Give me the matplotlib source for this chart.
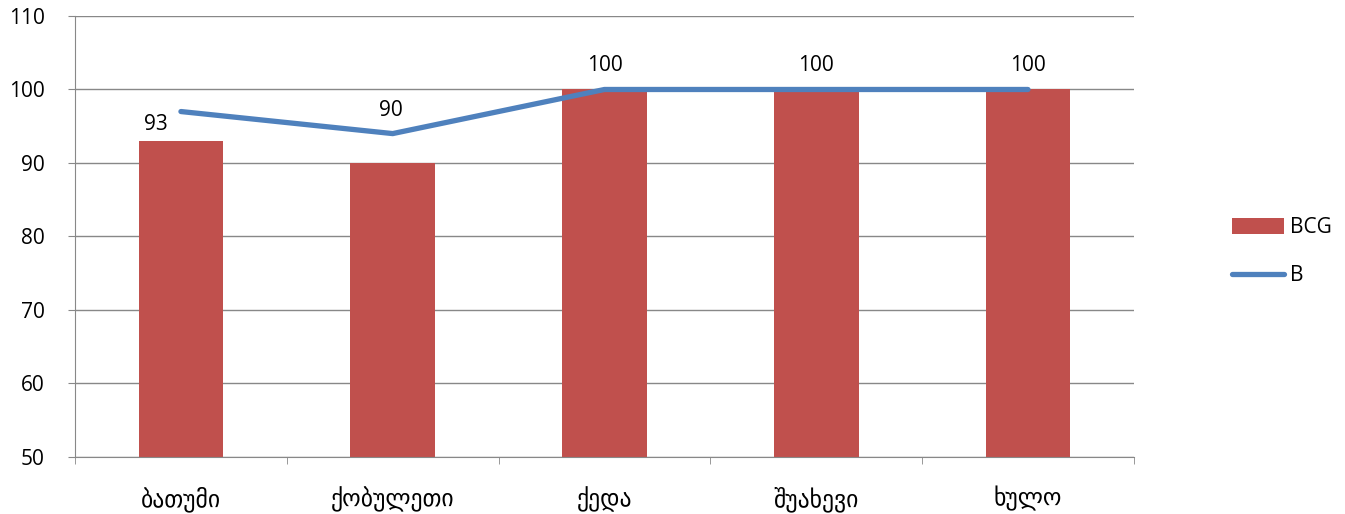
import matplotlib
matplotlib.use("Agg")
import matplotlib.pyplot as plt
import numpy as np

# data
districts = ['ბათუმი', 'ქობულეთი', 'ქედა', 'შუახევი', 'ხულო']
bcg = [93, 90, 100, 100, 100]
b_vals = [97, 94, 100, 100, 100]

# label placement (points), Excel nudges the first two away from the line
label_offsets = [(-18, 4), (-1, 30), (0, 10), (0, 10), (0, 10)]

plt.rcParams['font.family'] = ['Open Sans', 'DejaVu Sans']
plt.rcParams['font.size'] = 15

fig = plt.figure(figsize=(13.45, 5.14), dpi=100, facecolor='w')
ax = fig.add_axes([0.0558, 0.1109, 0.843 - 0.0558, 0.9689 - 0.1109])

x = np.arange(len(districts))
bar_h = ax.bar(x, bcg, width=0.4, color='#C0504D', label='BCG', zorder=2)
line_h, = ax.plot(x, b_vals, color='#4F81BD', lw=3.8, solid_capstyle='round', label='B', zorder=3)

for xi, v, off in zip(x, bcg, label_offsets):
    ax.annotate(str(v), (xi, v), xytext=off, textcoords='offset points',
                ha='center', va='bottom', fontsize=15)

ax.set_ylim(50, 110)
ax.set_yticks(range(50, 111, 10))
ax.set_xlim(-0.5, len(districts) - 0.5)
ax.set_xticks(x)
ax.set_xticklabels(districts, fontsize=17, family=['DejaVu Sans'])
ax.set_xticks(np.arange(-0.5, len(districts)), minor=True)
ax.tick_params(axis='x', which='major', length=0, pad=21)
ax.tick_params(axis='x', which='minor', length=5, color='#888888')
ax.tick_params(axis='y', length=5, color='#888888', pad=17, labelsize=15)

ax.yaxis.grid(True, color='#888888', lw=1, zorder=0)
ax.set_axisbelow(True)
for s in ['top', 'right']:
    ax.spines[s].set_visible(False)
for s in ['left', 'bottom']:
    ax.spines[s].set_color('#888888')

fig.legend([bar_h, line_h], ['BCG', 'B'], loc='center left', bbox_to_anchor=(0.902, 0.51),
           frameon=False, fontsize=15, handlelength=2.5, handleheight=0.75,
           labelspacing=1.3, handletextpad=0.3)

fig.savefig('out.png', dpi=100)
